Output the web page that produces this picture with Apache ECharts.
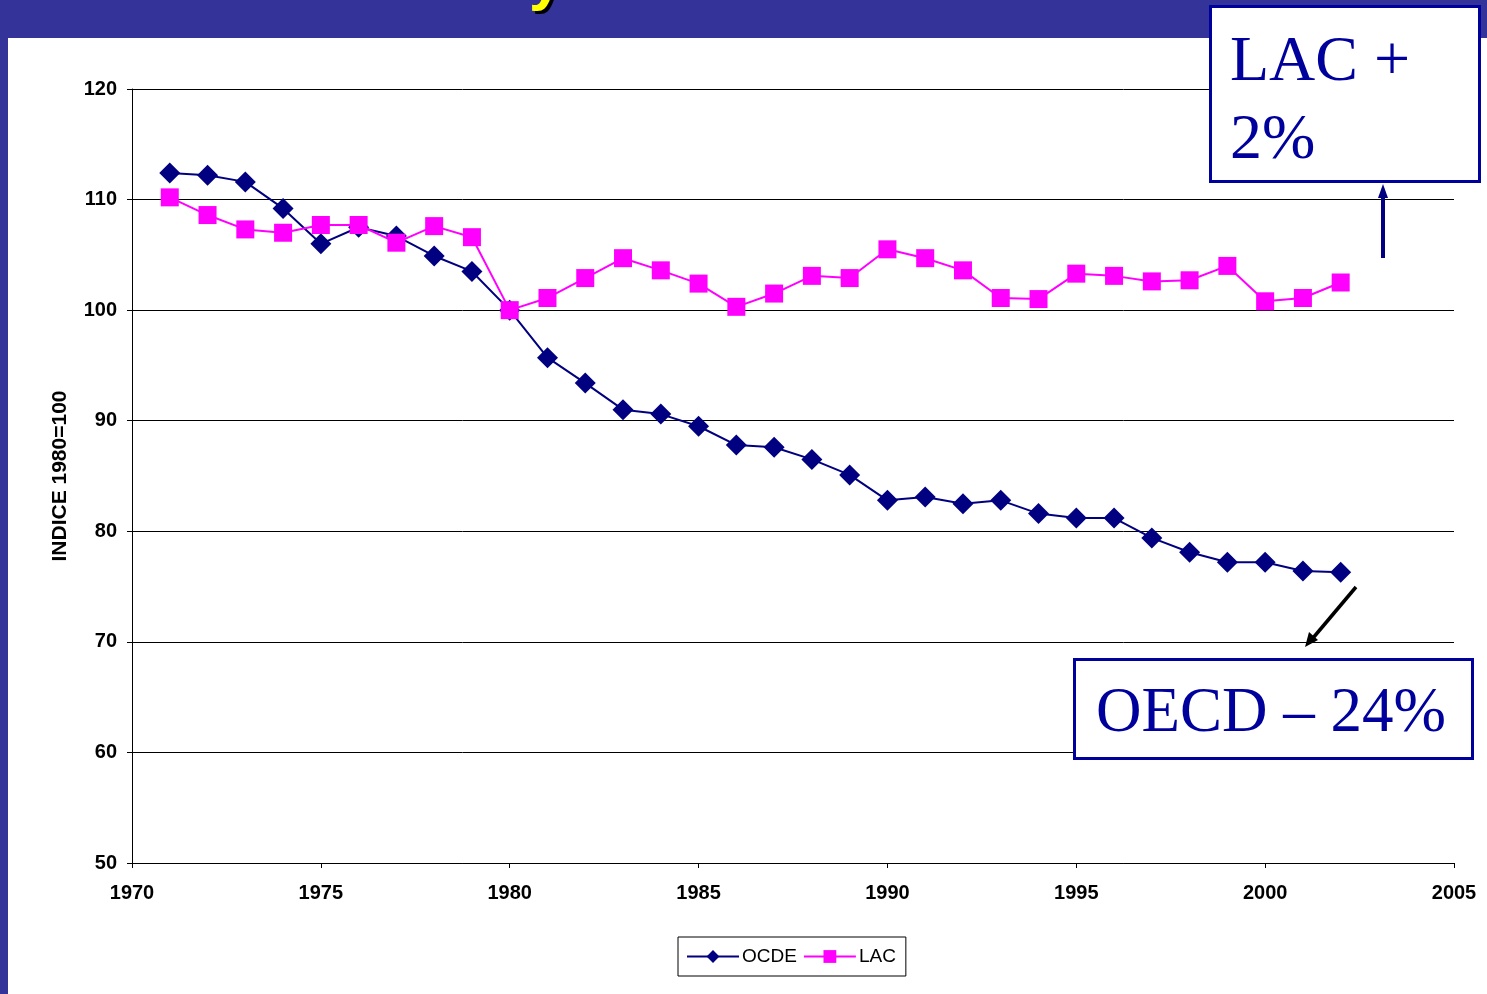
<!DOCTYPE html>
<html>
<head>
<meta charset="utf-8">
<script src="https://cdn.jsdelivr.net/npm/echarts@6/dist/echarts.min.js"></script>
<style>
  html, body { margin: 0; padding: 0; background: #fff; }
  #chart { width: 1487px; height: 994px; }
</style>
</head>
<body>
<div id="chart"></div>
<script>
// years 1971..2002
const years = [1971, 1972, 1973, 1974, 1975, 1976, 1977, 1978, 1979, 1980,
  1981, 1982, 1983, 1984, 1985, 1986, 1987, 1988, 1989, 1990,
  1991, 1992, 1993, 1994, 1995, 1996, 1997, 1998, 1999, 2000, 2001, 2002];

const ocde = [112.4, 112.2, 111.6, 109.2, 106.0, 107.5, 106.7, 104.9, 103.5, 100.0,
  95.7, 93.4, 91.0, 90.6, 89.5, 87.8, 87.6, 86.5, 85.1, 82.8,
  83.1, 82.5, 82.8, 81.6, 81.2, 81.2, 79.4, 78.1, 77.2, 77.2, 76.4, 76.3];

const lac = [110.2, 108.6, 107.3, 107.0, 107.7, 107.7, 106.1, 107.6, 106.6, 100.0,
  101.1, 102.9, 104.7, 103.6, 102.4, 100.3, 101.5, 103.1, 102.9, 105.5,
  104.7, 103.6, 101.1, 101.0, 103.3, 103.1, 102.6, 102.7, 104.0, 100.8, 101.1, 102.5];

const seriesNames = ['OCDE', 'LAC'];
const yAxisName = 'INDICE 1980=100';
const noteLac = ['LAC +', '2%'];
const noteOecd = 'OECD – 24%';

const chart = echarts.init(document.getElementById('chart'));

const axisFont = { color: '#000', fontFamily: 'Liberation Sans, Arial, sans-serif', fontWeight: 'bold', fontSize: 20 };
const boxBlue = '#00009c';

const option = {
  backgroundColor: '#fff',
  animation: false,
  grid: { left: 132, top: 89, right: 33, bottom: 131 },
  legend: {
    data: seriesNames,
    left: 678,
    top: 937,
    width: 229,
    height: 41,
    padding: [10, 10, 10, 8],
    itemGap: 6,
    itemWidth: 52,
    itemHeight: 16,
    borderColor: '#000',
    borderWidth: 1,
    textStyle: { color: '#000', fontFamily: 'Liberation Sans, Arial, sans-serif', fontSize: 19, padding: [0, 0, 0, -2] }
  },
  xAxis: {
    type: 'value',
    min: 1970,
    max: 2005,
    interval: 5,
    axisLine: { lineStyle: { color: '#000', width: 1 } },
    axisTick: { show: true, length: 5, lineStyle: { color: '#000' } },
    axisLabel: Object.assign({ margin: 20, formatter: v => String(v) }, axisFont),
    splitLine: { show: false }
  },
  yAxis: {
    type: 'value',
    min: 50,
    max: 120,
    interval: 10,
    name: yAxisName,
    nameLocation: 'middle',
    nameGap: 61,
    nameRotate: 90,
    nameTextStyle: { color: '#000', fontFamily: 'Liberation Sans, Arial, sans-serif', fontWeight: 'bold', fontSize: 21 },
    axisLine: { show: true, lineStyle: { color: '#000', width: 1 } },
    axisTick: { show: true, length: 5, lineStyle: { color: '#000' } },
    axisLabel: Object.assign({ margin: 15 }, axisFont),
    splitLine: { show: true, lineStyle: { color: '#000', width: 1 } }
  },
  series: [
    {
      name: seriesNames[0],
      type: 'line',
      data: years.map((y, i) => [y, ocde[i]]),
      symbol: 'diamond',
      symbolSize: 21,
      lineStyle: { color: '#000080', width: 2 },
      itemStyle: { color: '#000080' },
      z: 2
    },
    {
      name: seriesNames[1],
      type: 'line',
      data: years.map((y, i) => [y, lac[i]]),
      symbol: 'rect',
      symbolSize: 18,
      lineStyle: { color: '#ff00ff', width: 2 },
      itemStyle: { color: '#ff00ff' },
      z: 3
    }
  ],
  graphic: [
    // slide background band and left edge
    { type: 'rect', left: 0, top: 0, shape: { width: 1487, height: 38 }, style: { fill: '#333399' }, z: 100 },
    { type: 'rect', left: 0, top: 0, shape: { width: 8, height: 994 }, style: { fill: '#333399' }, z: 100 },
    // tail of the cut-off title
    { type: 'text', x: 532, y: -45, style: { text: 'y', fill: '#000', font: 'bold 60px Liberation Sans, Arial' }, z: 101 },
    { type: 'text', x: 529, y: -48, style: { text: 'y', fill: '#ffff00', font: 'bold 60px Liberation Sans, Arial' }, z: 102 },
    // LAC box
    { type: 'rect', shape: { x: 1210.5, y: 6.5, width: 269, height: 175 }, style: { fill: '#fff', stroke: boxBlue, lineWidth: 3 }, z: 110 },
    { type: 'text', x: 1230, y: 31, style: { text: noteLac[0], fill: boxBlue, font: '64px Liberation Serif, Times New Roman, serif' }, z: 111 },
    { type: 'text', x: 1230, y: 109, style: { text: noteLac[1], fill: boxBlue, font: '64px Liberation Serif, Times New Roman, serif' }, z: 111 },
    // up arrow
    { type: 'line', shape: { x1: 1383, y1: 258, x2: 1383, y2: 196 }, style: { stroke: '#000080', lineWidth: 4 }, z: 110 },
    { type: 'polygon', shape: { points: [[1378, 198], [1388, 198], [1383, 184]] }, style: { fill: '#000080' }, z: 110 },
    // OECD box
    { type: 'rect', shape: { x: 1074.5, y: 659.5, width: 398, height: 99 }, style: { fill: '#fff', stroke: boxBlue, lineWidth: 3 }, z: 110 },
    { type: 'text', x: 1271, y: 714, style: { text: noteOecd, fill: boxBlue, font: '63px Liberation Serif, Times New Roman, serif', align: 'center', verticalAlign: 'middle' }, z: 111 },
    // down-left arrow
    { type: 'line', shape: { x1: 1356, y1: 587, x2: 1313, y2: 638 }, style: { stroke: '#000', lineWidth: 3.5 }, z: 110 },
    { type: 'polygon', shape: { points: [[1305, 647], [1309, 632], [1318, 640]] }, style: { fill: '#000' }, z: 110 }
  ]
};

chart.setOption(option);
</script>
</body>
</html>
